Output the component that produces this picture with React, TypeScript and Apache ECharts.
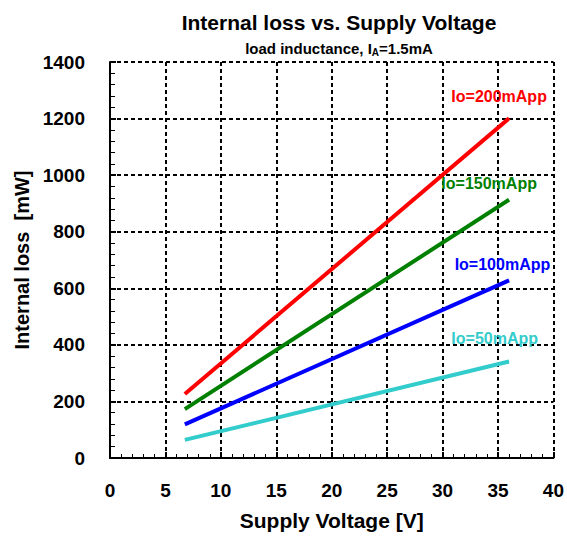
import React, { useEffect, useRef } from "react";
import * as echarts from "echarts";

const xTicksMin = 0;
const xTicksMax = 40;
const yTicksMin = 0;
const yTicksMax = 1400;

const seriesNames = ["Io=200mApp", "Io=150mApp", "Io=100mApp", "Io=50mApp"];
const seriesColors = ["#ff0000", "#008000", "#0000ff", "#33cccc"];
const voltage = [6.75, 36];
const loss200 = [226, 1201];
const loss150 = [173, 913];
const loss100 = [119, 628];
const loss50 = [64, 341];
const labelPos: [number, number][] = [
  [35.1, 1278],
  [34.2, 969],
  [35.4, 684],
  [34.7, 424],
];

const FONT = '"Liberation Sans", Arial, Helvetica, sans-serif';

export default function App() {
  const ref = useRef<HTMLDivElement>(null);
  useEffect(() => {
    if (!ref.current) return;
    const chart = echarts.init(ref.current, undefined, { renderer: "svg" });
    const all = [loss200, loss150, loss100, loss50];
    chart.setOption({
      animation: false,
      backgroundColor: "#ffffff",
      textStyle: { fontFamily: FONT },
      title: [
        {
          text: "Internal loss vs. Supply Voltage",
          left: 334,
          top: 7,
          textAlign: "center",
          textStyle: { fontFamily: FONT, fontSize: 21, fontWeight: "bold", color: "#000" },
        },
        {
          text: "load inductance, I{sub|A}=1.5mA",
          left: 334,
          top: 35,
          textAlign: "center",
          textStyle: {
            fontFamily: FONT,
            fontSize: 15,
            fontWeight: "bold",
            color: "#000",
            rich: {
              sub: { fontFamily: FONT, fontSize: 10, fontWeight: "bold", color: "#000", verticalAlign: "bottom", padding: [7, 0, 0, 0] },
            },
          },
        },
      ],
      grid: { left: 110, right: 12, top: 62, bottom: 71, containLabel: false },
      xAxis: {
        type: "value",
        min: xTicksMin,
        max: xTicksMax,
        interval: 5,
        name: "Supply Voltage [V]",
        nameLocation: "middle",
        nameGap: 52,
        nameTextStyle: { fontFamily: FONT, fontSize: 21, fontWeight: "bold", color: "#000" },
        axisLine: { show: true, lineStyle: { color: "#000", width: 2 } },
        axisTick: { show: true, inside: true, length: 6, lineStyle: { color: "#000", width: 2 } },
        minorTick: { show: true, splitNumber: 5, length: 4, lineStyle: { color: "#000", width: 1 } },
        axisLabel: { fontFamily: FONT, fontSize: 19, fontWeight: "bold", color: "#000", margin: 23, formatter: (v: number) => String(v) },
        splitLine: { show: true, lineStyle: { color: "#000", width: 2, type: [4, 3] } },
      },
      yAxis: {
        type: "value",
        min: yTicksMin,
        max: yTicksMax,
        interval: 200,
        name: "Internal loss  [mW]",
        nameLocation: "middle",
        nameGap: 76,
        nameTextStyle: { fontFamily: FONT, fontSize: 20, fontWeight: "bold", color: "#000" },
        axisLine: { show: true, lineStyle: { color: "#000", width: 2 } },
        axisTick: { show: true, inside: true, length: 6, lineStyle: { color: "#000", width: 2 } },
        minorTick: { show: true, splitNumber: 5, length: 5, lineStyle: { color: "#000", width: 1 } },
        axisLabel: { fontFamily: FONT, fontSize: 19, fontWeight: "bold", color: "#000", margin: 25, formatter: (v: number) => String(v) },
        splitLine: { show: true, lineStyle: { color: "#000", width: 2, type: [4, 3] } },
      },
      series: seriesNames.map((name, i) => ({
        name,
        type: "line",
        data: voltage.map((v, j) => [v, all[i][j]]),
        showSymbol: false,
        symbol: "none",
        lineStyle: { color: seriesColors[i], width: 4 },
        itemStyle: { color: seriesColors[i] },
        z: 3,
        markPoint: {
          symbol: "circle",
          symbolSize: 0,
          data: [
            {
              coord: labelPos[i],
              label: {
                show: true,
                position: "inside",
                formatter: name,
                fontFamily: FONT,
                fontSize: 16,
                fontWeight: "bold",
                color: seriesColors[i],
              },
            },
          ],
        },
      })),
    });
    return () => chart.dispose();
  }, []);
  return (
    <div
      ref={ref}
      style={{ position: "fixed", left: 0, top: 0, width: 567, height: 536 }}
    />
  );
}
